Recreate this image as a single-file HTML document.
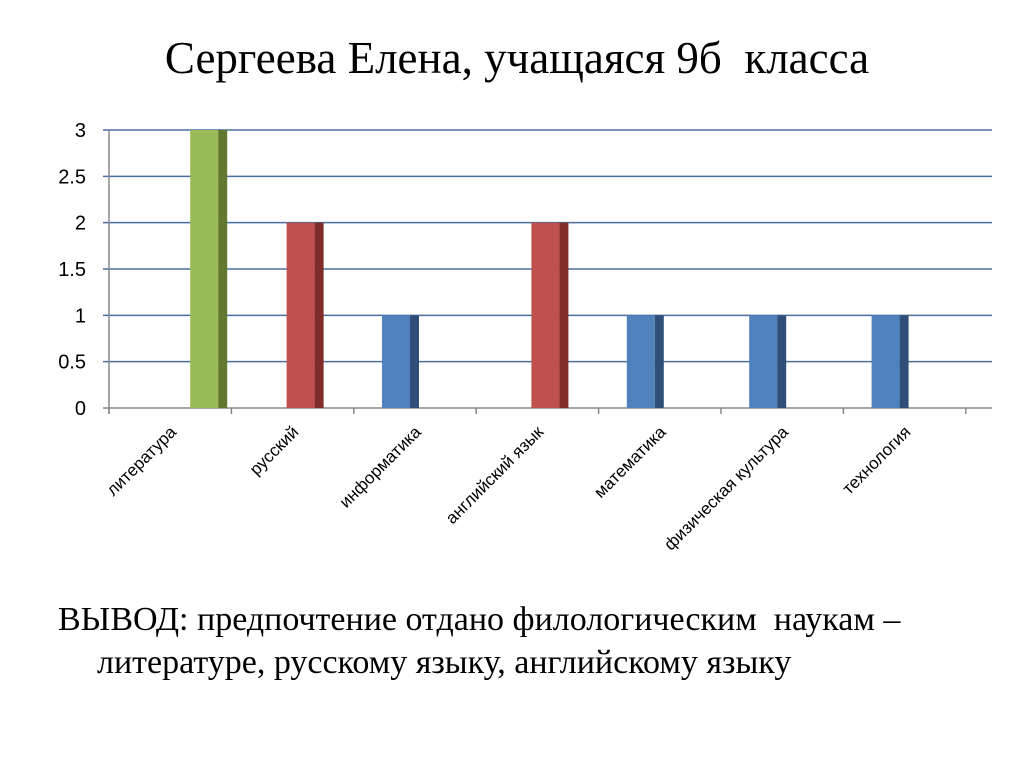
<!DOCTYPE html>
<html><head><meta charset="utf-8"><style>
body{margin:0;width:1024px;height:768px;background:#fff;overflow:hidden;position:relative;font-family:"Liberation Serif","DejaVu Serif",serif}
#title{position:absolute;left:0;width:1034px;top:32px;text-align:center;font-size:45px;color:#000;white-space:nowrap}
#concl{position:absolute;left:58px;top:598px;font-size:34px;line-height:43px;color:#000;white-space:nowrap}
</style></head><body>
<div id="title">Сергеева Елена, учащаяся 9б&nbsp; класса</div>
<svg id="chart" width="1024" height="768" style="position:absolute;left:0;top:0"></svg>
<div id="concl">ВЫВОД: предпочтение отдано филологическим&nbsp; наукам –<br><span style="padding-left:39px">литературе, русскому языку, английскому языку</span></div>
<script>
const categories=["литература","русский","информатика","английский язык","математика","физическая культура","технология"];
const blueSeries=[0,0,1,0,1,1,1];
const redSeries=[0,2,0,2,0,0,0];
const greenSeries=[3,0,0,0,0,0,0];
const yTicks=[0,0.5,1,1.5,2,2.5,3];
const NS="http://www.w3.org/2000/svg";
const svg=document.getElementById('chart');
const x0=109,catW=122.4,y0=408,yTop=130,yMax=3,xEnd=992;
const y=v=>y0-(v/yMax)*(y0-yTop);
function mk(t,a,p){const e=document.createElementNS(NS,t);for(const k in a)e.setAttribute(k,a[k]);(p||svg).appendChild(e);return e;}
yTicks.forEach(v=>{
 const l=mk('line',{x1:x0-6,x2:xEnd,y1:y(v),y2:y(v),stroke:v===0?'#888':'#4a6f9f','stroke-width':1.5});
 
 
 const t=mk('text',{x:86,y:y(v)+7,'text-anchor':'end','font-size':20,'font-family':'Liberation Sans, sans-serif',fill:'#000'});
 t.textContent=v;
 
 
});
const ax=mk('line',{x1:x0,x2:x0,y1:yTop,y2:y0+6,stroke:'#888','stroke-width':1.5});


for(let i=0;i<=categories.length;i++){
 const tk=mk('line',{x1:x0+i*catW,x2:x0+i*catW,y1:y0,y2:y0+6,stroke:'#888','stroke-width':1.5});
 
 
}
const series=[{d:blueSeries,off:-33,f:'#4f81bd',s:'#2f4f78',n:'blue'},{d:redSeries,off:-6,f:'#c0504d',s:'#7f2c2a',n:'red'},{d:greenSeries,off:20,f:'#9bbb59',s:'#62772f',n:'green'}];
categories.forEach((c,i)=>{
 const cx=x0+catW*(i+0.5);
 series.forEach(s=>{
  const v=s.d[i]; if(!v)return;
  const g=mk('g',{});
  
  
  mk('rect',{x:cx+s.off,y:y(v),width:28,height:y0-y(v),fill:s.f},g);
  mk('rect',{x:cx+s.off+28,y:y(v),width:9,height:y0-y(v),fill:s.s},g);
 });
 const tx=cx+7,ty=433;
 const t=mk('text',{x:tx,y:ty,'text-anchor':'end','font-size':17,'font-family':'Liberation Sans, sans-serif',fill:'#000',transform:`rotate(-45 ${tx} ${ty})`});
 t.textContent=c;
 
 
});
</script>
</body></html>
